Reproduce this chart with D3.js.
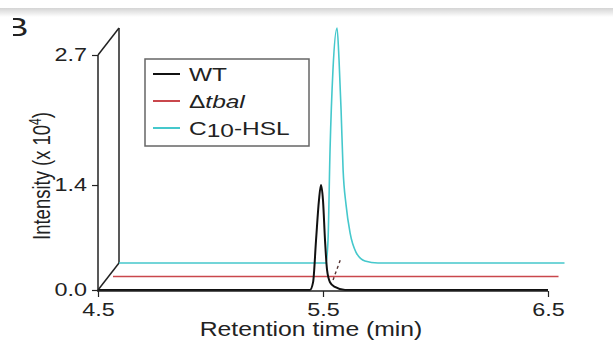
<!DOCTYPE html>
<html>
<head>
<meta charset="utf-8">
<script src="https://cdn.jsdelivr.net/npm/d3@7"></script>
<style>
  body { margin: 0; background: #fff; }
  text { font-family: "Liberation Sans", Arial, sans-serif; fill: #222; }
</style>
</head>
<body>
<svg id="chart" width="613" height="343"></svg>
<script>
// retention time (min) / intensity (x 10^4)
const wtTime   = [4.5, 5.442, 5.456, 5.469, 5.482, 5.491, 5.5, 5.509, 5.518, 5.531, 5.553, 5.598, 6.5];
const wtValue  = [0, 0, 0.09, 0.57, 1.03, 1.206, 1.03, 0.57, 0.23, 0.09, 0.035, 0, 0];

const tbalTime  = [4.52, 6.5];
const tbalValue = [0, 0];
// small dashed trace near 5.5 in the tbal plane
const tbalDashTime  = [5.498, 5.533];
const tbalDashValue = [-0.04, 0.21];

const hslTime  = [4.5, 5.42, 5.429, 5.438, 5.451, 5.469, 5.478, 5.487, 5.496, 5.509, 5.527, 5.553, 5.593, 5.651, 6.48];
const hslValue = [0, 0, 0.264, 1.30, 2.22, 2.70, 2.33, 1.76, 1.07, 0.67, 0.345, 0.126, 0.023, 0, 0];

const xTicks = [4.5, 5.5, 6.5];
const yTicks = [0, 1.206, 2.7];
const yTickLabels = ['0.0', '1.4', '2.7'];

const seriesNames = ['WT', '\u0394tbal', 'C10-HSL'];
const seriesColors = ['#111', '#c9474c', '#45c8cc'];

// the source figure's lettering is stretched sideways
const SX = 1.3;

const svg = d3.select('#chart');

// top shadow band
const defs = svg.append('defs');
const grad = defs.append('linearGradient')
  .attr('id', 'band').attr('x1', 0).attr('x2', 0).attr('y1', 0).attr('y2', 1);
grad.append('stop').attr('offset', 0).attr('stop-color', '#d4d4d4');
grad.append('stop').attr('offset', 1).attr('stop-color', '#fff');
svg.append('rect').attr('x', 0).attr('y', 8).attr('width', 613).attr('height', 9)
  .attr('fill', 'url(#band)');

function label(parent, px, py, size, sx) {
  return parent.append('text')
    .attr('transform', 'translate(' + px + ',' + py + ') scale(' + (sx || SX) + ',1)')
    .style('font-size', size + 'px');
}

defs.append('clipPath').attr('id', 'clipB')
  .append('rect').attr('x', 13).attr('y', 0).attr('width', 30).attr('height', 60);
svg.append('g').attr('clip-path', 'url(#clipB)')
  .call(g => label(g, 5, 36, 25, 1.4).text('B'));

const x = d3.scaleLinear().domain([4.5, 6.5]).range([98, 548]);
const y = d3.scaleLinear().domain([0, 2.7]).range([290, 55]);

// depth offset for each plane (front -> back)
const dx = 21, dy = -27;
const off = z => [z * dx, z * dy];

const frame = svg.append('g').attr('stroke', '#222').attr('stroke-width', 1.5).attr('fill', 'none');
const [bx, by] = off(1);
frame.append('line')
  .attr('x1', x(4.5) + bx).attr('x2', x(4.5) + bx)
  .attr('y1', y(2.7) + by).attr('y2', y(0) + by);
frame.append('line')
  .attr('x1', x(4.5)).attr('x2', x(4.5) + bx)
  .attr('y1', y(2.7)).attr('y2', y(2.7) + by);
frame.append('line')
  .attr('x1', x(4.5)).attr('x2', x(4.5) + bx)
  .attr('y1', y(0)).attr('y2', y(0) + by);

function drawSeries(times, values, z, color, width, dash) {
  const [ox, oy] = off(z);
  const line = d3.line()
    .curve(d3.curveMonotoneX)
    .x(d => x(d[0]) + ox)
    .y(d => y(d[1]) + oy);
  svg.append('path')
    .datum(d3.zip(times, values))
    .attr('d', line)
    .attr('fill', 'none')
    .attr('stroke', color)
    .attr('stroke-width', width)
    .attr('stroke-dasharray', dash || null)
    .attr('stroke-linejoin', 'round');
}

drawSeries(hslTime, hslValue, 1, seriesColors[2], 1.6);
drawSeries(tbalTime, tbalValue, 0.5, seriesColors[1], 1.6);
drawSeries(tbalDashTime, tbalDashValue, 0.5, '#553333', 1.4, '3,3');
drawSeries(wtTime, wtValue, 0, seriesColors[0], 2);

// axes
const xAxis = svg.append('g')
  .attr('transform', 'translate(0,' + (y(0) + 1) + ')')
  .call(d3.axisBottom(x).tickValues(xTicks).tickSize(6).tickPadding(6).tickFormat(d3.format('.1f')));
const yAxis = svg.append('g')
  .attr('transform', 'translate(' + x(4.5) + ',0)')
  .call(d3.axisLeft(y).tickValues(yTicks).tickSize(6)
    .tickFormat((d, i) => yTickLabels[i]));
[xAxis, yAxis].forEach(a => {
  a.select('.domain').attr('stroke', '#222').attr('stroke-width', 1.5);
  a.selectAll('.tick line').attr('stroke', '#222').attr('stroke-width', 1.2);
  a.selectAll('text').style('font-size', '18px').attr('fill', '#222')
    .style('font-family', '"Liberation Sans", Arial, sans-serif')
    .attr('transform', 'scale(' + SX + ',1)');
});
yAxis.selectAll('text').attr('x', -11 / SX);
xAxis.select('.domain').attr('d', 'M' + x(4.5) + ',0H' + x(6.5));
yAxis.select('.domain').attr('d', 'M0,' + y(2.7) + 'V' + (y(0) + 2));

label(svg, 311, 336, 19.5, 1.27)
  .attr('text-anchor', 'middle')
  .text('Retention time (min)');

const yl = svg.append('text')
  .attr('transform', 'translate(50,176) scale(1.3,1) rotate(-90)')
  .attr('text-anchor', 'middle')
  .style('font-size', '18.5px');
yl.append('tspan').text('Intensity (x 10');
yl.append('tspan').attr('dy', -7).style('font-size', '12px').text('4');
yl.append('tspan').attr('dy', 7).text(')');

// legend
const legend = svg.append('g');
legend.append('rect')
  .attr('x', 145).attr('y', 59).attr('width', 164).attr('height', 87)
  .attr('fill', '#fff').attr('stroke', '#666').attr('stroke-width', 1.5);
const rowY = d3.scalePoint().domain(seriesNames).range([74, 128]);
seriesNames.forEach((name, i) => {
  legend.append('line')
    .attr('x1', 153).attr('x2', 180)
    .attr('y1', rowY(name)).attr('y2', rowY(name))
    .attr('stroke', seriesColors[i]).attr('stroke-width', 2);
  const t = label(legend, 189, rowY(name) + 6.5, 18, 1.36);
  if (i === 1) {
    t.append('tspan').text('\u0394');
    t.append('tspan').style('font-style', 'italic').text('tbal');
  } else if (i === 2) {
    t.append('tspan').text('C');
    t.append('tspan').attr('dy', 2).text('10');
    t.append('tspan').attr('dy', -2).text('-HSL');
  } else {
    t.text(name);
  }
});
</script>
</body>
</html>
